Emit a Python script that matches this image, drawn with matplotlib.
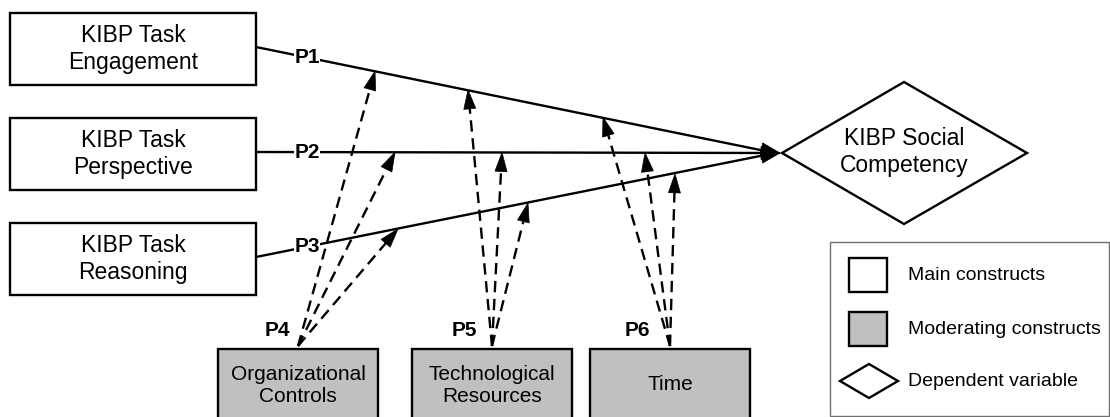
import numpy as np
import matplotlib.pyplot as plt
from matplotlib.patches import Rectangle, Polygon

plt.rcParams['font.family'] = ['Liberation Sans', 'DejaVu Sans']

# Main constructs (left boxes)
main_labels = ["KIBP Task\nEngagement", "KIBP Task\nPerspective", "KIBP Task\nReasoning"]
main_tops = [13, 118, 223]
main_line_y = [47, 152, 257]
path_labels = ["P1", "P2", "P3"]

# Moderating constructs (bottom boxes)
mod_labels = ["Organizational\nControls", "Technological\nResources", "Time"]
mod_left = [218, 412, 590]
mod_path_labels = ["P4", "P5", "P6"]
mod_label_x = [277, 464, 637]
# x position on lines P1, P2, P3 where each moderator's dashed arrow lands
mod_targets = [[375, 395, 398],
               [468, 502, 528],
               [603, 645, 675]]

legend_labels = ["Main constructs", "Moderating constructs", "Dependent variable"]

# geometry
box_x, box_w, box_h = 10, 246, 72
mod_w, mod_top = 160, 349
tip = np.array([780.0, 153.0])
diamond = [(782, 153), (904, 82), (1027, 153), (904, 224)]
gray = '#c0c0c0'
lw = 1.7


def head(ax, start, end, length=19, width=13):
    start = np.array(start, float)
    end = np.array(end, float)
    d = (end - start) / np.linalg.norm(end - start)
    n = np.array([-d[1], d[0]])
    base = end - length * d
    pts = [end, base + width / 2 * n, base - width / 2 * n]
    ax.add_patch(Polygon(pts, closed=True, facecolor='black', edgecolor='black', lw=0.5, zorder=5))
    return base


def line_y(i, x):
    return main_line_y[i] + (tip[1] - main_line_y[i]) * (x - (box_x + box_w)) / (tip[0] - (box_x + box_w))


fig = plt.figure(figsize=(11.1, 4.17), dpi=100)
ax = fig.add_axes([0, 0, 1, 1])
ax.set_xlim(0, 1110)
ax.set_ylim(417, 0)
ax.axis('off')

# main boxes and solid arrows
for i in range(3):
    ax.add_patch(Rectangle((box_x, main_tops[i]), box_w, box_h, facecolor='white',
                           edgecolor='black', lw=lw, zorder=3))
    ax.text(box_x + box_w / 2, main_tops[i] + box_h / 2, main_labels[i], ha='center', va='center',
            fontsize=16.5, linespacing=1.25, zorder=4)
    start = (box_x + box_w, main_line_y[i])
    ax.plot([start[0], tip[0] - 5], [start[1], tip[1]], color='black', lw=lw, zorder=2)
    head(ax, start, tip)
    ax.text(307, line_y(i, 307), path_labels[i], ha='center', va='center', fontsize=15,
            fontweight='bold', zorder=6,
            bbox=dict(facecolor='white', edgecolor='none', pad=0.5))

# dependent variable
ax.add_patch(Polygon(diamond, closed=True, facecolor='white', edgecolor='black', lw=lw, zorder=3))
ax.text(904, 152, "KIBP Social\nCompetency", ha='center', va='center', fontsize=16.5,
        linespacing=1.25, zorder=4)

# moderating boxes and dashed arrows
for j in range(3):
    ax.add_patch(Rectangle((mod_left[j], mod_top), mod_w, 80, facecolor=gray,
                           edgecolor='black', lw=lw, zorder=3))
    ax.text(mod_left[j] + mod_w / 2, 385, mod_labels[j], ha='center', va='center',
            fontsize=15, zorder=4)
    src = (mod_left[j] + mod_w / 2, mod_top - 3)
    for i in range(3):
        tx = mod_targets[j][i]
        end = (tx, line_y(i, tx))
        base = head(ax, src, end, length=19, width=12)
        ax.plot([src[0], base[0]], [src[1], base[1]], color='black', lw=lw,
                linestyle=(0, (4.8, 2.8)), zorder=2)
    ax.text(mod_label_x[j], 330, mod_path_labels[j], ha='center',
            va='center', fontsize=15, fontweight='bold', zorder=6)

# legend
ax.add_patch(Rectangle((830, 242), 279, 174, facecolor='white', edgecolor='#707070', lw=1, zorder=3))
ax.add_patch(Rectangle((849, 258), 38, 34, facecolor='white', edgecolor='black', lw=lw, zorder=4))
ax.add_patch(Rectangle((849, 312), 38, 34, facecolor=gray, edgecolor='black', lw=lw, zorder=4))
ax.add_patch(Polygon([(840, 381), (869, 364), (898, 381), (869, 398)], closed=True,
                     facecolor='white', edgecolor='black', lw=lw, zorder=4))
for k, ly in enumerate([275, 329, 382]):
    ax.text(908, ly, legend_labels[k], ha='left', va='center', fontsize=14, zorder=4)

fig.savefig("out.png", dpi=100)
